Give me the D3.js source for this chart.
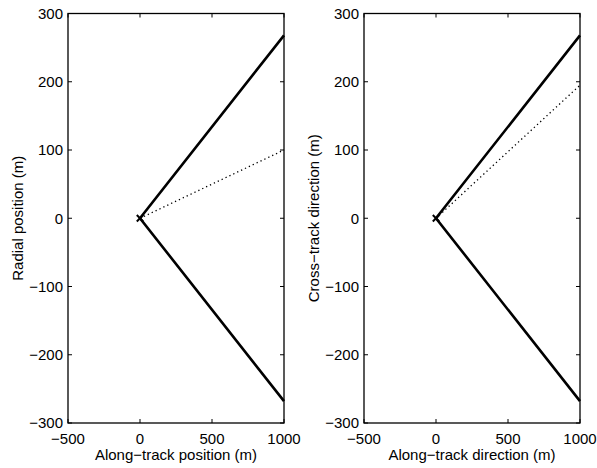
<!DOCTYPE html>
<html>
<head>
<meta charset="utf-8">
<script src="https://cdn.jsdelivr.net/npm/d3@7"></script>
<style>
  html, body { margin: 0; padding: 0; background: #fff; }
  svg { display: block; }
  text { font-family: "Liberation Sans", Arial, Helvetica, sans-serif; font-size: 15px; fill: #000; }
</style>
</head>
<body>
<svg id="chart" width="597" height="468"></svg>
<script>
// ---- data ----
const xTicks = [-500, 0, 500, 1000];
const yTicks = [-300, -200, -100, 0, 100, 200, 300];
const xDomain = [-500, 1000];
const yDomain = [-300, 300];
const coneX = [1000, 0, 1000];
const coneY = [268, 0, -268];
const dotX = [0, 1000];
const leftDotY = [0, 100];
const rightDotY = [0, 195];
const markerX = [0];
const markerY = [0];
const xLabels = ["Along\u2212track position (m)", "Along\u2212track direction (m)"];
const yLabels = ["Radial position (m)", "Cross\u2212track direction (m)"];

const panels = [
  { left: 68, right: 284, dotY: leftDotY, xLabel: xLabels[0], yLabel: yLabels[0] },
  { left: 364, right: 580, dotY: rightDotY, xLabel: xLabels[1], yLabel: yLabels[1] }
];
const plotTop = 13.5, plotBottom = 423;
const fmt = v => (v < 0 ? "\u2212" + Math.abs(v) : String(v));

const svg = d3.select("#chart");

panels.forEach(p => {
  const x = d3.scaleLinear().domain(xDomain).range([p.left, p.right]);
  const y = d3.scaleLinear().domain(yDomain).range([plotBottom, plotTop]);
  const g = svg.append("g");

  const line = d3.line().x(d => x(d[0])).y(d => y(d[1]));
  g.append("path")
    .attr("d", line(coneX.map((v, i) => [v, coneY[i]])))
    .attr("fill", "none").attr("stroke", "#000").attr("stroke-width", 2.6)
    .attr("stroke-linejoin", "miter");
  g.append("path")
    .attr("d", line(dotX.map((v, i) => [v, p.dotY[i]])))
    .attr("fill", "none").attr("stroke", "#000").attr("stroke-width", 1.3)
    .attr("stroke-dasharray", "1.3,3");

  markerX.forEach((mx, i) => {
    const cx = x(mx), cy = y(markerY[i]), s = 3.2;
    g.append("path")
      .attr("d", `M${cx - s},${cy - s}L${cx + s},${cy + s}M${cx - s},${cy + s}L${cx + s},${cy - s}`)
      .attr("stroke", "#000").attr("stroke-width", 2).attr("fill", "none");
  });

  g.append("rect")
    .attr("x", p.left).attr("y", plotTop)
    .attr("width", p.right - p.left).attr("height", plotBottom - plotTop)
    .attr("fill", "none").attr("stroke", "#000").attr("stroke-width", 1.3);

  const tl = 4;
  xTicks.forEach(t => {
    const xx = x(t);
    g.append("line").attr("x1", xx).attr("x2", xx).attr("y1", plotBottom).attr("y2", plotBottom - tl)
      .attr("stroke", "#000").attr("stroke-width", 1);
    g.append("line").attr("x1", xx).attr("x2", xx).attr("y1", plotTop).attr("y2", plotTop + tl)
      .attr("stroke", "#000").attr("stroke-width", 1);
    g.append("text").attr("x", xx).attr("y", plotBottom + 21)
      .attr("text-anchor", "middle").text(fmt(t));
  });
  yTicks.forEach(t => {
    const yy = y(t);
    g.append("line").attr("x1", p.left).attr("x2", p.left + tl).attr("y1", yy).attr("y2", yy)
      .attr("stroke", "#000").attr("stroke-width", 1);
    g.append("line").attr("x1", p.right).attr("x2", p.right - tl).attr("y1", yy).attr("y2", yy)
      .attr("stroke", "#000").attr("stroke-width", 1);
    g.append("text").attr("x", p.left - 5).attr("y", yy).attr("dy", "0.36em")
      .attr("text-anchor", "end").text(fmt(t));
  });

  g.append("text").attr("x", (p.left + p.right) / 2).attr("y", 460)
    .attr("text-anchor", "middle").text(p.xLabel);
  g.append("text")
    .attr("transform", `translate(${p.left - 45},${(plotTop + plotBottom) / 2}) rotate(-90)`)
    .attr("text-anchor", "middle").text(p.yLabel);
});
</script>
</body>
</html>
